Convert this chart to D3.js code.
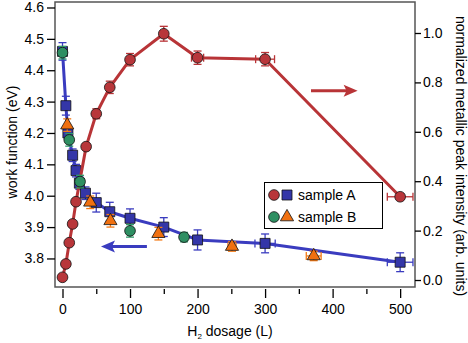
<!DOCTYPE html>
<html>
<head>
<meta charset="utf-8">
<script src="https://cdn.jsdelivr.net/npm/d3@7"></script>
<style>
  body { margin: 0; background: #fff; }
  text { font-family: "Liberation Sans", Arial, sans-serif; fill: #000; }
</style>
</head>
<body>
<svg id="chart" width="468" height="343"></svg>
<script>
// sample A, work function (blue squares, left axis)
var doseA = [0, 5, 8, 15, 20, 25, 34, 50, 70, 100, 150, 200, 300, 500];
var wfA = [4.46, 4.287, 4.20, 4.129, 4.08, 4.04, 4.008, 3.978, 3.949, 3.928, 3.90, 3.859, 3.848, 3.788];
var wfAErr = [0.028, 0.03, 0.02, 0.02, 0.02, 0.02, 0.02, 0.03, 0.03, 0.03, 0.03, 0.032, 0.03, 0.03];
var doseAErr = [0, 0, 0, 0, 0, 0, 0, 0, 0, 0, 0, 0, 15, 19];

// sample A, normalized metallic peak intensity (red circles, right axis)
var doseI = [0, 5, 10, 15, 20, 35, 50, 70, 100, 150, 200, 300, 500];
var intA = [0.011, 0.065, 0.151, 0.227, 0.317, 0.54, 0.673, 0.78, 0.892, 0.997, 0.90, 0.894, 0.337];
var intAErr = [0.01, 0.01, 0.01, 0.01, 0.01, 0.01, 0.02, 0.025, 0.025, 0.03, 0.027, 0.027, 0.01];
var doseIErr = [0, 0, 0, 0, 0, 0, 0, 0, 0, 0, 9, 14, 19];

// sample B, circles (green)
var doseBc = [0, 10, 26, 100, 180];
var wfBc = [4.456, 4.178, 4.045, 3.888, 3.868];
var wfBcErr = [0.02, 0.02, 0.02, 0.02, 0.015];

// sample B, triangles (orange)
var doseBt = [7, 41, 71, 142, 251, 372];
var wfBt = [4.225, 3.979, 3.92, 3.879, 3.838, 3.808];
var wfBtErr = [0.02, 0.02, 0.02, 0.02, 0.015, 0.015];
var doseBtErr = [0, 0, 0, 0, 6, 11];

var xTicks = [0, 100, 200, 300, 400, 500];
var xMinor = [50, 150, 250, 350, 450];
var yLTicks = [3.8, 3.9, 4.0, 4.1, 4.2, 4.3, 4.4, 4.5, 4.6];
var yRTicks = [0, 0.2, 0.4, 0.6, 0.8, 1.0];

var red = "#b83437", redFill = "#b8363a";
var blue = "#3a3cbf", blueFill = "#3436a8";
var green = "#2f9c6a", greenFill = "#2e8f62";
var orange = "#f47a16", orangeFill = "#f07010";

// frame
var L = 55, R = 415, T = 2, B = 287;

var x = d3.scaleLinear().domain([-11.1, 522]).range([L, R]);
var yL = d3.scaleLinear().domain([3.709, 4.6175]).range([B, T]);
var yR = d3.scaleLinear().domain([-0.0283, 1.1255]).range([B, T]);

var svg = d3.select("#chart");

svg.append("rect")
    .attr("x", L).attr("y", T)
    .attr("width", R - L).attr("height", B - T)
    .attr("fill", "none").attr("stroke", "#555").attr("stroke-width", 1.5);

// axes
var gx = svg.append("g").attr("transform", "translate(0," + (B + 2) + ")")
    .call(d3.axisBottom(x).tickValues(xTicks).tickFormat(d3.format("d")).tickSize(9).tickPadding(6));
svg.append("g").attr("transform", "translate(0," + (B + 2) + ")")
    .call(d3.axisBottom(x).tickValues(xMinor).tickFormat("").tickSize(5));

var gl = svg.append("g").attr("transform", "translate(" + L + ",0)")
    .call(d3.axisLeft(yL).tickValues(yLTicks).tickFormat(d3.format(".1f")).tickSize(8).tickPadding(3));

var gr = svg.append("g").attr("transform", "translate(" + R + ",0)")
    .call(d3.axisRight(yR).tickValues(yRTicks).tickFormat(d3.format(".1f")).tickSize(6).tickPadding(2));

svg.selectAll(".domain").remove();
svg.selectAll(".tick line").attr("stroke", "#000").attr("stroke-width", 1.3);
svg.selectAll(".tick text").style("font-size", "14px").style("font-family", "Liberation Sans, Arial, sans-serif");

// axis titles
var xt = svg.append("text")
    .attr("x", 230).attr("y", 336)
    .attr("text-anchor", "middle").style("font-size", "14px");
xt.append("tspan").text("H");
xt.append("tspan").text("2").attr("dy", 3).style("font-size", "8px");
xt.append("tspan").text(" dosage (L)").attr("dy", -3);

svg.append("text")
    .attr("transform", "translate(17,142) rotate(-90)")
    .attr("text-anchor", "middle").style("font-size", "14px")
    .text("work function (eV)");

svg.append("text")
    .attr("transform", "translate(456,156) rotate(90)")
    .attr("text-anchor", "middle").style("font-size", "14px")
    .text("normalized metallic peak intensity (arb. units)");

// helpers
function errorBars(xs, ys, yerr, xerr, sx, sy, color) {
    var g = svg.append("g").attr("stroke", color).attr("stroke-width", 1.3).attr("fill", "none");
    xs.forEach(function(d, i) {
        var cx = sx(d), cy = sy(ys[i]);
        if (yerr && yerr[i] > 0) {
            var y1 = sy(ys[i] + yerr[i]), y2 = sy(ys[i] - yerr[i]);
            g.append("line").attr("x1", cx).attr("x2", cx).attr("y1", y1).attr("y2", y2);
            g.append("line").attr("x1", cx - 4).attr("x2", cx + 4).attr("y1", y1).attr("y2", y1);
            g.append("line").attr("x1", cx - 4).attr("x2", cx + 4).attr("y1", y2).attr("y2", y2);
        }
        if (xerr && xerr[i] > 0) {
            var x1 = sx(d - xerr[i]), x2 = sx(d + xerr[i]);
            g.append("line").attr("x1", x1).attr("x2", x2).attr("y1", cy).attr("y2", cy);
            g.append("line").attr("x1", x1).attr("x2", x1).attr("y1", cy - 4).attr("y2", cy + 4);
            g.append("line").attr("x1", x2).attr("x2", x2).attr("y1", cy - 4).attr("y2", cy + 4);
        }
    });
}

function drawLine(xs, ys, sx, sy, color) {
    var line = d3.line()
        .x(function(d) { return sx(d[0]); })
        .y(function(d) { return sy(d[1]); });
    svg.append("path")
        .attr("d", line(xs.map(function(d, i) { return [d, ys[i]]; })))
        .attr("fill", "none").attr("stroke", color).attr("stroke-width", 3)
        .attr("stroke-linejoin", "round");
}

var sym = {
    circle: d3.symbol().type(d3.symbolCircle).size(90),
    square: d3.symbol().type(d3.symbolSquare).size(100),
    triangle: d3.symbol().type(d3.symbolTriangle).size(75)
};

function markers(xs, ys, sx, sy, shape, fill) {
    svg.append("g").selectAll("path")
        .data(xs)
        .join("path")
        .attr("transform", function(d, i) { return "translate(" + sx(d) + "," + sy(ys[i]) + ")"; })
        .attr("d", sym[shape])
        .attr("fill", fill).attr("stroke", "#111").attr("stroke-width", 0.8);
}

// sample A work function
drawLine(doseA, wfA, x, yL, blue);
errorBars(doseA, wfA, wfAErr, doseAErr, x, yL, blue);
markers(doseA, wfA, x, yL, "square", blueFill);

// sample A intensity
drawLine(doseI, intA, x, yR, red);
errorBars(doseI, intA, intAErr, doseIErr, x, yR, red);
markers(doseI, intA, x, yR, "circle", redFill);

// sample B
errorBars(doseBc, wfBc, wfBcErr, null, x, yL, green);
markers(doseBc, wfBc, x, yL, "circle", greenFill);
errorBars(doseBt, wfBt, wfBtErr, doseBtErr, x, yL, orange);
markers(doseBt, wfBt, x, yL, "triangle", orangeFill);

// arrows
function arrow(x1, x2, yv, sy, color) {
    var px1 = x(x1), px2 = x(x2), py = sy(yv);
    var dir = px2 > px1 ? 1 : -1;
    svg.append("line")
        .attr("x1", px1).attr("x2", px2 - dir * 10).attr("y1", py).attr("y2", py)
        .attr("stroke", color).attr("stroke-width", 3);
    svg.append("path")
        .attr("d", "M" + px2 + "," + py + "L" + (px2 - dir * 14) + "," + (py - 6) +
              "L" + (px2 - dir * 11) + "," + py + "L" + (px2 - dir * 14) + "," + (py + 6) + "Z")
        .attr("fill", color);
}
arrow(125, 57, 3.838, yL, blue);
arrow(368, 437, 0.766, yR, red);

// legend
var lg = svg.append("g");
lg.append("rect").attr("x", 264.5).attr("y", 182.5).attr("width", 118).attr("height", 46)
    .attr("fill", "#fff").attr("stroke", "#000").attr("stroke-width", 1);
var legendRows = [
    { y: 195, a: "circle", fa: redFill, b: "square", fb: blueFill, label: "sample A" },
    { y: 217, a: "circle", fa: greenFill, b: "triangle", fb: orangeFill, label: "sample B" }
];
legendRows.forEach(function(r) {
    lg.append("path").attr("transform", "translate(274," + r.y + ")").attr("d", sym[r.a])
        .attr("fill", r.fa).attr("stroke", "#111").attr("stroke-width", 0.8);
    lg.append("path").attr("transform", "translate(287," + r.y + ")").attr("d", sym[r.b])
        .attr("fill", r.fb).attr("stroke", "#111").attr("stroke-width", 0.8);
    lg.append("text").attr("x", 298).attr("y", r.y + 5).style("font-size", "14px").text(r.label);
});
</script>
</body>
</html>
